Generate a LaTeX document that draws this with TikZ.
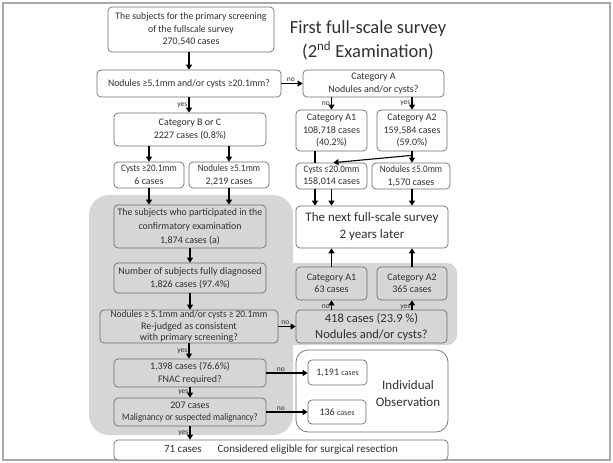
\documentclass[tikz,border=0pt]{standalone}
\usepackage{fontspec}
\setmainfont{Carlito}
\usepackage{graphicx}
\usetikzlibrary{arrows.meta}
\definecolor{shadec}{HTML}{D6D6D6}
\definecolor{bord}{HTML}{6E6E6E}
\definecolor{framec}{HTML}{A8A8A8}
\definecolor{txt}{HTML}{303030}
\newcommand\cond[2][0.85]{\scalebox{#1}[1]{#2}}
\begin{document}
\begin{tikzpicture}[x=1pt,y=-1pt,
 box/.style={draw=bord, line width=0.7pt, rounded corners=4pt, fill=white, align=center, inner sep=0pt, text=txt, font=\fontsize{10}{12.5}\selectfont},
 gbox/.style={box, fill=shadec},
 arr/.style={-{Triangle[length=5pt,width=6pt]}, line width=1.3pt, black},
 ln/.style={line width=1.3pt, black},
 lbl/.style={font=\fontsize{7.5}{8}\selectfont, text=txt, inner sep=1pt},
]
\useasboundingbox (0,0) rectangle (613,463);
\draw[framec, line width=1.2pt] (3,3) rectangle (610,460);
\fill[shadec, rounded corners=20pt] (89,195) rectangle (293,435);
\fill[shadec, rounded corners=10pt] (280,263) rectangle (457,345);

% left column
\node[box, minimum width=166pt, minimum height=45pt] (T) at (191,29.5)
  {\cond[0.97]{The subjects for the primary screening}\\ \cond[0.97]{of the fullscale survey}\\ 270,540 cases};
\node[font=\fontsize{18.5}{24}\selectfont, text=txt, align=center] (title) at (368,40)
  {First full-scale survey\\(2\textsuperscript{nd} Examination)};
\node[box, minimum width=184pt, minimum height=27pt] (Q1) at (189,83.5)
  {\cond[0.97]{Nodules ≥5.1mm and/or cysts ≥20.1mm?}};
\node[box, minimum width=141pt, minimum height=27pt] (CA) at (373.5,83.5)
  {Category A\\Nodules and/or cysts?};
\node[box, minimum width=152pt, minimum height=33pt] (BC) at (190,129.5)
  {Category B or C\\2227 cases (0.8\%)};
\node[box, minimum width=70pt, minimum height=26pt] (CG) at (149,175)
  {\cond[0.9]{Cysts ≥20.1mm}\\6 cases};
\node[box, minimum width=80pt, minimum height=26pt] (NG) at (229,175)
  {\cond[0.9]{Nodules ≥5.1mm}\\2,219 cases};
\node[gbox, minimum width=152pt, minimum height=43pt, font=\fontsize{10}{14}\selectfont] (S1) at (190,226.5)
  {\cond[0.98]{The subjects who participated in the}\\ \cond[0.98]{confirmatory examination}\\1,874 cases (a)};
\node[gbox, minimum width=152pt, minimum height=30pt] (S2) at (190,278)
  {Number of subjects fully diagnosed\\1,826 cases (97.4\%)};
\node[gbox, minimum width=178pt, minimum height=33pt, font=\fontsize{10}{11.5}\selectfont] (S3) at (189,326.5)
  {\cond[0.94]{Nodules ≥ 5.1mm and/or cysts ≥ 20.1mm}\\Re-judged as consistent\\with primary screening?};
\node[gbox, minimum width=152pt, minimum height=28pt] (S4) at (190,373)
  {1,398 cases (76.6\%)\\FNAC required?};
\node[gbox, minimum width=152pt, minimum height=28pt] (S5) at (190,412)
  {207 cases\\\cond[0.88]{Malignancy or suspected malignancy?}};
\node[box, minimum width=334pt, minimum height=20pt, font=\fontsize{11}{13}\selectfont] (BOT) at (281,450)
  {71 cases\hspace{16pt}Considered eligible for surgical resection};

% right column
\node[box, minimum width=71pt, minimum height=41pt] (A1) at (331.5,130.5)
  {Category A1\\108,718 cases\\(40.2\%)};
\node[box, minimum width=70pt, minimum height=41pt] (A2) at (412,130.5)
  {Category A2\\159,584 cases\\(59.0\%)};
\node[box, minimum width=71pt, minimum height=26pt] (CL) at (331.5,176)
  {\cond[0.9]{Cysts ≤20.0mm}\\158,014 cases};
\node[box, minimum width=78pt, minimum height=26pt] (NL) at (411,176)
  {\cond[0.9]{Nodules ≤5.0mm}\\1,570 cases};
\node[box, minimum width=152pt, minimum height=42pt, font=\fontsize{13}{17}\selectfont] (NX) at (372,227)
  {The next full-scale survey\\2 years later};
\node[gbox, minimum width=71pt, minimum height=33pt] (B1) at (331.5,283.5)
  {Category A1\\63 cases};
\node[gbox, minimum width=70pt, minimum height=33pt] (B2) at (412,283.5)
  {Category A2\\365 cases};
\node[gbox, minimum width=151pt, minimum height=33pt, font=\fontsize{12.5}{16}\selectfont] (B418) at (371.5,326.5)
  {418 cases (23.9 \%)\\Nodules and/or cysts?};
\node[box, rounded corners=12pt, minimum width=152pt, minimum height=82pt] (IO) at (372,391) {};
\node[text=txt, align=center, font=\fontsize{13}{17}\selectfont] (IOt) at (408,393.5) {Individual\\Observation};
\node[box, minimum width=59pt, minimum height=25pt] (C1) at (337.5,372.5) {1,191 {\footnotesize cases}};
\node[box, minimum width=58pt, minimum height=24pt] (C2) at (337,412) {136 {\footnotesize cases}};

% connectors left
\draw[arr] (T.south -| Q1.south) -- (Q1.north);
\draw[arr] (Q1.south) -- node[lbl, left] {yes} (Q1.south |- BC.north);
\draw[arr] (Q1.east) -- node[lbl, above, pos=0.45] {no} (CA.west);
\draw[arr] (CG.north |- BC.south) -- (CG.north);
\draw[arr] (NG.north |- BC.south) -- (NG.north);
\draw[arr] (CG.south) -- (CG.south |- S1.north);
\draw[arr] (NG.south) -- (NG.south |- S1.north);
\draw[arr] (S1.south) -- (S2.north);
\draw[arr] (S2.south) -- (S2.south |- S3.north);
\draw[arr] (S3.south) -- node[lbl, left] {yes} (S3.south |- S4.north);
\draw[arr] (S3.east) -- node[lbl, above, pos=0.4] {no} (S3.east -| B418.west);
\draw[arr] (S4.south) -- node[lbl, left] {yes} (S5.north);
\draw[arr] (S5.south) -- node[lbl, left] {yes} (S5.south |- BOT.north);
\draw[arr] (S4.east) -- node[lbl, above, pos=0.35] {no} (S4.east -| C1.west);
\draw[arr] (S5.east) -- node[lbl, above, pos=0.35] {no} (S5.east -| C2.west);

% connectors right
\draw[arr] (A1.north |- CA.south) -- node[lbl, left] {no} (A1.north);
\draw[arr] (A2.north |- CA.south) -- node[lbl, left] {yes} (A2.north);
\draw[ln] ([xshift=-16.5pt]A1.south) -- ([xshift=-16.5pt]A1.south |- CL.north);
\draw[arr] (A2.south) -- (A2.south |- NL.north);
\draw[arr, line width=1.1pt] (A2.south) -- ++(0,4) -- ([xshift=2pt]CL.north);
\draw[arr] ([xshift=-16.5pt]CL.south) -- ([xshift=-16.5pt]CL.south |- NX.north);
\draw[arr] (CL.south) -- (CL.south |- NX.north);
\draw[arr] (A2.south |- NL.south) -- (A2.south |- NX.north);
\draw[arr] (B1.north) -- (B1.north |- NX.south);
\draw[arr] (B2.north) -- (B2.north |- NX.south);
\draw[arr] (B1.south |- B418.north) -- node[lbl, left, pos=0.3] {no} (B1.south);
\draw[arr] (B2.south |- B418.north) -- node[lbl, left, pos=0.3] {yes} (B2.south);
\end{tikzpicture}
\end{document}
